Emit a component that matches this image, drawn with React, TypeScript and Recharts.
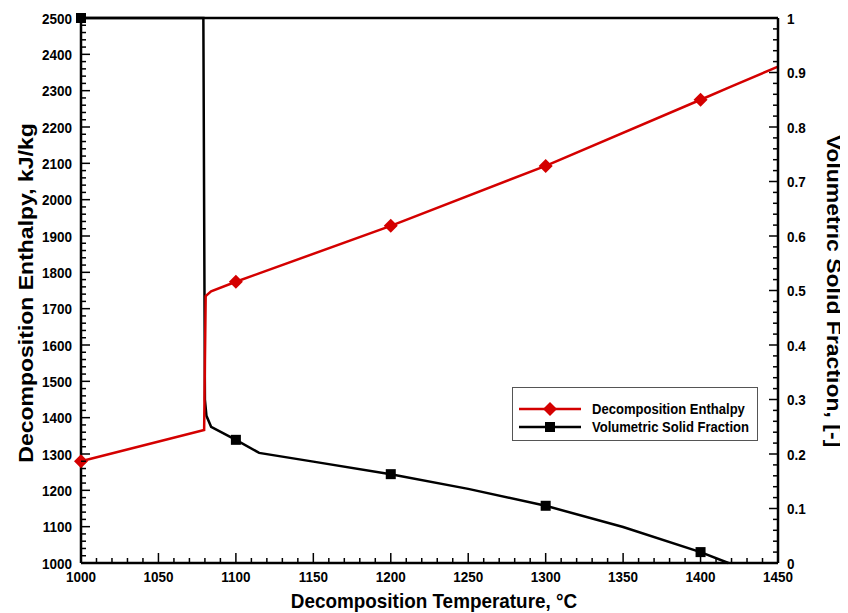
import {
  ComposedChart,
  Legend,
  Line,
  ReferenceLine,
  XAxis,
  YAxis,
} from "recharts";

// major tick labels
const TEMP_TICKS = [1000, 1050, 1100, 1150, 1200, 1250, 1300, 1350, 1400, 1450];
const ENTHALPY_TICKS = [
  1000, 1100, 1200, 1300, 1400, 1500, 1600, 1700, 1800, 1900, 2000, 2100, 2200,
  2300, 2400, 2500,
];
const FRACTION_TICKS = [0, 0.1, 0.2, 0.3, 0.4, 0.5, 0.6, 0.7, 0.8, 0.9, 1];

// decomposition enthalpy, kJ/kg (left axis)
const enthalpyTemp = [1000, 1079.5, 1080.5, 1084, 1100, 1115, 1200, 1300, 1400, 1420, 1450];
const enthalpyValue = [1280, 1366, 1735, 1748, 1774, 1797, 1928, 2093, 2275, 2312, 2366];

// volumetric solid fraction (right axis)
const fractionTemp = [1000, 1079, 1080, 1081, 1084, 1100, 1115, 1150, 1200, 1250, 1300, 1350, 1400, 1418];
const fractionValue = [1, 1, 0.3, 0.27, 0.25, 0.226, 0.202, 0.186, 0.163, 0.136, 0.105, 0.066, 0.02, 0];

const MARKER_TEMPS = [1000, 1100, 1200, 1300, 1400];

const RED = "#d40000";
const FONT = "'Liberation Sans', Arial, sans-serif";
const SQUEEZE = 0.9; // the original lettering is a bit narrower than Arial

const enthalpyData = enthalpyTemp.map((t, i) => ({ t, h: enthalpyValue[i] }));
const fractionData = fractionTemp.map((t, i) => ({ t, f: fractionValue[i] }));

function minorTicks(from: number, to: number, step: number) {
  const out: number[] = [];
  const n = Math.round((to - from) / step);
  for (let i = 0; i <= n; i++) out.push(Math.round((from + i * step) * 1000) / 1000);
  return out;
}

const isMajor = (list: number[], v: number) => list.some((t) => Math.abs(t - v) < 1e-6);

function NarrowText({
  x,
  y,
  size,
  anchor = "start",
  rotate = 0,
  children,
}: {
  x: number;
  y: number;
  size: number;
  anchor?: "start" | "middle" | "end";
  rotate?: number;
  children: React.ReactNode;
}) {
  return (
    <text
      transform={`translate(${x},${y}) scale(${SQUEEZE},1) rotate(${rotate})`}
      textAnchor={anchor}
      style={{ fontFamily: FONT, fontSize: size, fontWeight: 700, fill: "#000" }}
    >
      {children}
    </text>
  );
}

type TickProps = { x?: number; y?: number; payload?: { value: number } };

function TempTick({ x = 0, y = 0, payload }: TickProps) {
  const v = payload?.value ?? 0;
  const major = isMajor(TEMP_TICKS, v);
  return (
    <g>
      <line x1={x} x2={x} y1={y} y2={y - (major ? 10 : 5)} stroke="#000" strokeWidth={1.5} />
      {major && (
        <NarrowText x={x} y={y + 19} size={15} anchor="middle">
          {v}
        </NarrowText>
      )}
    </g>
  );
}

function EnthalpyTick({ x = 0, y = 0, payload }: TickProps) {
  const v = payload?.value ?? 0;
  const major = isMajor(ENTHALPY_TICKS, v);
  return (
    <g>
      <line x1={x} x2={x + (major ? 9 : 5)} y1={y} y2={y} stroke="#000" strokeWidth={1.5} />
      {major && (
        <NarrowText x={x - 9} y={y + 5.5} size={15} anchor="end">
          {v}
        </NarrowText>
      )}
    </g>
  );
}

function FractionTick({ x = 0, y = 0, payload }: TickProps) {
  const v = payload?.value ?? 0;
  const major = isMajor(FRACTION_TICKS, v);
  const label = v === 0 || v === 1 ? String(v) : v.toFixed(1);
  return (
    <g>
      <line x1={x} x2={x - (major ? 9 : 5)} y1={y} y2={y} stroke="#000" strokeWidth={1.5} />
      {major && (
        <NarrowText x={x + 9} y={y + 5.5} size={15}>
          {label}
        </NarrowText>
      )}
    </g>
  );
}

function Diamond({ cx, cy, fill }: { cx: number; cy: number; fill: string }) {
  const s = 7;
  return (
    <polygon
      points={`${cx},${cy - s} ${cx + s},${cy} ${cx},${cy + s} ${cx - s},${cy}`}
      fill={fill}
    />
  );
}

function Square({ cx, cy, fill }: { cx: number; cy: number; fill: string }) {
  return <rect x={cx - 5} y={cy - 5} width={10} height={10} fill={fill} />;
}

function enthalpyDot(props: any) {
  const { cx, cy, payload, index } = props;
  if (!MARKER_TEMPS.includes(payload.t)) return <g key={`ed${index}`} />;
  return (
    <g key={`ed${index}`}>
      <Diamond cx={cx} cy={cy} fill={RED} />
    </g>
  );
}

function fractionDot(props: any) {
  const { cx, cy, payload, index } = props;
  if (!MARKER_TEMPS.includes(payload.t)) return <g key={`fd${index}`} />;
  return (
    <g key={`fd${index}`}>
      <Square cx={cx} cy={cy} fill="#000" />
    </g>
  );
}

function LegendBox() {
  return (
    <div
      style={{
        width: 246,
        height: 54,
        border: "1px solid #555",
        boxSizing: "border-box",
        background: "#fff",
      }}
    >
      <svg width={244} height={52}>
        <line x1={6} x2={68} y1={21} y2={21} stroke={RED} strokeWidth={2.5} />
        <Diamond cx={37} cy={21} fill={RED} />
        <NarrowText x={79} y={26} size={14.5}>
          Decomposition Enthalpy
        </NarrowText>
        <line x1={6} x2={68} y1={39} y2={39} stroke="#000" strokeWidth={2.5} />
        <Square cx={37} cy={39} fill="#000" />
        <NarrowText x={79} y={44} size={14.5}>
          Volumetric Solid Fraction
        </NarrowText>
      </svg>
    </div>
  );
}

export default function App() {
  return (
    <ComposedChart
      width={840}
      height={605}
      margin={{ top: 10, right: 0, bottom: 0, left: 0 }}
      style={{ background: "#fff" }}
    >
      <XAxis
        type="number"
        dataKey="t"
        domain={[1000, 1450]}
        ticks={minorTicks(1000, 1450, 10)}
        interval={0}
        tickSize={0}
        tickMargin={0}
        tickLine={false}
        tick={<TempTick />}
        height={50}
        axisLine={{ stroke: "#000", strokeWidth: 2.5 }}
        allowDuplicatedCategory={false}
        label={{
          value: "Decomposition Temperature, °C",
          content: () => (
            <NarrowText x={426} y={600} size={21} anchor="middle">
              Decomposition Temperature, °C
            </NarrowText>
          ),
        }}
      />
      <YAxis
        yAxisId="left"
        type="number"
        domain={[1000, 2500]}
        ticks={minorTicks(1000, 2500, 20)}
        interval={0}
        tickSize={0}
        tickMargin={0}
        tickLine={false}
        tick={<EnthalpyTick />}
        width={73}
        axisLine={{ stroke: "#000", strokeWidth: 2.5 }}
        label={{
          value: "Decomposition Enthalpy, kJ/kg",
          content: () => (
            <NarrowText x={25} y={285} size={23} anchor="middle" rotate={-90}>
              Decomposition Enthalpy, kJ/kg
            </NarrowText>
          ),
        }}
      />
      <YAxis
        yAxisId="right"
        orientation="right"
        type="number"
        domain={[0, 1]}
        ticks={minorTicks(0, 1, 0.02)}
        interval={0}
        tickSize={0}
        tickMargin={0}
        tickLine={false}
        tick={<FractionTick />}
        width={70}
        axisLine={{ stroke: "#000", strokeWidth: 2.5 }}
        label={{
          value: "Volumetric Solid Fraction, [-]",
          content: () => (
            <NarrowText x={819} y={283} size={23} anchor="middle" rotate={90}>
              Volumetric Solid Fraction, [-]
            </NarrowText>
          ),
        }}
      />
      <ReferenceLine yAxisId="left" y={2500} stroke="#000" strokeWidth={2.5} />
      <Line
        yAxisId="right"
        data={fractionData}
        dataKey="f"
        type="linear"
        stroke="#000"
        strokeWidth={2.5}
        dot={fractionDot}
        activeDot={false}
        isAnimationActive={false}
      />
      <Line
        yAxisId="left"
        data={enthalpyData}
        dataKey="h"
        type="linear"
        stroke={RED}
        strokeWidth={2.5}
        dot={enthalpyDot}
        activeDot={false}
        isAnimationActive={false}
      />
      <Legend
        layout="vertical"
        align="center"
        verticalAlign="middle"
        wrapperStyle={{ left: 504, top: 379, width: 246, height: 54 }}
        content={() => <LegendBox />}
      />
    </ComposedChart>
  );
}
